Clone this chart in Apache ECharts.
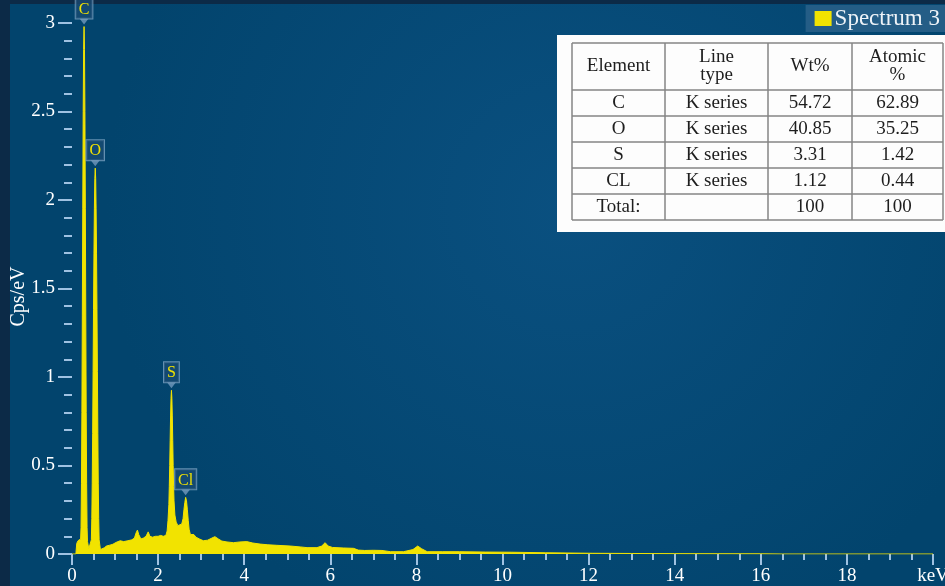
<!DOCTYPE html>
<html>
<head>
<meta charset="utf-8">
<script src="https://cdn.jsdelivr.net/npm/echarts@6/dist/echarts.min.js"></script>
<style>
  html, body { margin: 0; padding: 0; background: #0c2a47; }
  #chart { width: 945px; height: 586px; }
</style>
</head>
<body>
<div id="chart"></div>
<script>
// spectrum (keV, Cps/eV)
var energyKeV = [
  0, 0.09, 0.11, 0.14, 0.18, 0.20,
  0.21, 0.22, 0.23, 0.24, 0.25, 0.26, 0.27, 0.28, 0.29, 0.30, 0.31, 0.32, 0.33, 0.34, 0.35, 0.36,
  0.39, 0.42,
  0.45, 0.46, 0.47, 0.48, 0.49, 0.50, 0.51, 0.52, 0.53, 0.54, 0.55, 0.56, 0.57, 0.58, 0.59, 0.60, 0.61, 0.62, 0.63,
  0.66, 0.70, 0.75, 0.8, 0.88, 0.95, 1.02, 1.12, 1.2, 1.3, 1.39, 1.45, 1.49, 1.52, 1.55, 1.6, 1.66, 1.72, 1.77, 1.81,
  1.87, 1.94, 2.0, 2.06, 2.12, 2.18, 2.21, 2.23, 2.25, 2.26, 2.27, 2.28, 2.29, 2.30, 2.31, 2.32, 2.33, 2.34, 2.35, 2.36,
  2.37, 2.39, 2.42, 2.46, 2.5, 2.55, 2.58, 2.6, 2.62, 2.64, 2.66, 2.68, 2.7, 2.72, 2.75, 2.79, 2.83, 2.88, 2.96, 3.05,
  3.15, 3.25, 3.32, 3.4, 3.48, 3.6, 3.75, 3.9, 4.06, 4.2, 4.37, 4.55, 4.76, 5.07, 5.3, 5.46, 5.69, 5.8, 5.88, 5.95,
  6.05, 6.3, 6.54, 6.65, 6.8, 7.0, 7.2, 7.4, 7.7, 7.92, 8.03, 8.12, 8.25, 8.6, 9.0, 9.6, 10.2, 11.0, 12.1, 13.0,
  14.0, 15.0, 16.0, 16.5, 20
];
var countsCps = [
  0, 0, 0.06, 0.075, 0.08, 0.085,
  0.15, 0.4, 0.8, 1.35, 1.95, 2.5, 2.85, 2.98, 2.85, 2.5, 1.95, 1.35, 0.8, 0.4, 0.15, 0.07,
  0.03, 0.035,
  0.08, 0.2, 0.4, 0.68, 1.03, 1.38, 1.7, 1.95, 2.12, 2.18, 2.12, 1.95, 1.7, 1.38, 1.03, 0.68, 0.4, 0.2, 0.08,
  0.025, 0.028, 0.035, 0.045, 0.05, 0.055, 0.065, 0.075, 0.07, 0.075, 0.08, 0.09, 0.12, 0.135, 0.11, 0.085, 0.09, 0.1, 0.125, 0.1,
  0.095, 0.1, 0.1, 0.105, 0.1, 0.105, 0.13, 0.19, 0.28, 0.38, 0.5, 0.64, 0.78, 0.88, 0.925, 0.88, 0.78, 0.64, 0.5, 0.38,
  0.3, 0.22, 0.18, 0.16, 0.16, 0.17, 0.2, 0.25, 0.29, 0.32, 0.3, 0.25, 0.19, 0.14, 0.11, 0.12, 0.11, 0.095, 0.085, 0.075,
  0.078, 0.09, 0.098, 0.085, 0.073, 0.068, 0.064, 0.068, 0.07, 0.062, 0.056, 0.052, 0.049, 0.045, 0.04, 0.036, 0.036, 0.045, 0.064, 0.045,
  0.037, 0.034, 0.032, 0.022, 0.02, 0.021, 0.02, 0.013, 0.013, 0.025, 0.045, 0.03, 0.013, 0.013, 0.013, 0.011, 0.01, 0.007, 0.004, 0.003,
  0.002, 0.0015, 0.001, 0, 0
];

// labelled peaks
var peakNames = ['C', 'O', 'S', 'Cl'];
var peakKeV = [0.28, 0.54, 2.31, 2.64];
var peakCps = [2.98, 2.18, 0.925, 0.32];

// quantification table
var tableHeader = ['Element', 'Line\ntype', 'Wt%', 'Atomic\n%'];
var tableElement = ['C', 'O', 'S', 'CL', 'Total:'];
var tableLineType = ['K series', 'K series', 'K series', 'K series', ''];
var tableWt = ['54.72', '40.85', '3.31', '1.12', '100'];
var tableAtomic = ['62.89', '35.25', '1.42', '0.44', '100'];

var serif = '"Liberation Serif", "DejaVu Serif", serif';
var yellow = '#f2e300';
var tickColor = '#9fc2e2';

var chart = echarts.init(document.getElementById('chart'));

// table built from the arrays above
var colX = [572, 665, 768, 852, 943];
var rowY = [43, 90, 116, 142, 168, 194, 220];
var tableParts = [{
  type: 'rect',
  shape: { x: 557, y: 35, width: 388, height: 197 },
  style: { fill: '#fdfdfd' }
}];
rowY.forEach(function (y) {
  tableParts.push({
    type: 'line',
    shape: { x1: colX[0], y1: y, x2: colX[4], y2: y },
    style: { stroke: '#858585', lineWidth: 1.5 }
  });
});
colX.forEach(function (x) {
  tableParts.push({
    type: 'line',
    shape: { x1: x, y1: rowY[0], x2: x, y2: rowY[rowY.length - 1] },
    style: { stroke: '#858585', lineWidth: 1.5 }
  });
});
function cell(txt, c, r) {
  return {
    type: 'text',
    style: {
      x: (colX[c] + colX[c + 1]) / 2,
      y: (rowY[r] + rowY[r + 1]) / 2,
      text: txt,
      align: 'center',
      verticalAlign: 'middle',
      font: '19px ' + serif,
      lineHeight: 18,
      fill: '#1e1e1e'
    }
  };
}
tableHeader.forEach(function (h, c) { tableParts.push(cell(h, c, 0)); });
tableElement.forEach(function (e, i) {
  tableParts.push(cell(e, 0, i + 1));
  tableParts.push(cell(tableLineType[i], 1, i + 1));
  tableParts.push(cell(tableWt[i], 2, i + 1));
  tableParts.push(cell(tableAtomic[i], 3, i + 1));
});

var option = {
  animation: false,
  backgroundColor: '#0c2a47',
  graphic: [
    {
      type: 'rect',
      z: -100,
      shape: { x: 10, y: 4, width: 935, height: 582 },
      style: {
        fill: {
          type: 'radial', x: 0.6, y: 0.35, r: 0.8,
          colorStops: [{ offset: 0, color: '#0a5080' }, { offset: 1, color: '#02446d' }]
        }
      }
    },
    { type: 'group', z: 100, children: tableParts }
  ],
  legend: {
    data: ['Spectrum 3'],
    right: 0,
    top: 5,
    icon: 'rect',
    itemWidth: 17,
    itemHeight: 15,
    itemGap: 3,
    backgroundColor: '#245d86',
    padding: [2, 5, 2, 9],
    textStyle: { color: '#eef3f8', fontSize: 23, fontFamily: serif, padding: [0, 0, 0, -2] }
  },
  grid: { left: 72, right: 12, top: 23, bottom: 32, outerBoundsMode: 'none', containLabel: false },
  xAxis: {
    type: 'value',
    min: 0,
    max: 20,
    interval: 2,
    axisLine: { show: false },
    axisTick: { show: true, length: 11, lineStyle: { color: tickColor, width: 2 } },
    minorTick: { show: true, splitNumber: 4, length: 6, lineStyle: { color: tickColor, width: 2 } },
    splitLine: { show: false },
    axisLabel: {
      color: '#ffffff', fontSize: 19, fontFamily: serif, margin: 13,
      formatter: function (v) { return v === 20 ? 'keV' : String(v); }
    }
  },
  yAxis: {
    type: 'value',
    min: 0,
    max: 3,
    interval: 0.5,
    name: 'Cps/eV',
    nameLocation: 'middle',
    nameGap: 43,
    nameMoveOverlap: false,
    nameTextStyle: { color: '#ffffff', fontSize: 20, fontFamily: serif, padding: [0, 16, 0, 0] },
    axisLine: { show: false },
    axisTick: { show: true, length: 14, lineStyle: { color: tickColor, width: 2 } },
    minorTick: { show: true, splitNumber: 5, length: 8, lineStyle: { color: tickColor, width: 2 } },
    splitLine: { show: false },
    axisLabel: { color: '#ffffff', fontSize: 19, fontFamily: serif, margin: 17 }
  },
  series: [{
    name: 'Spectrum 3',
    type: 'line',
    data: energyKeV.map(function (e, i) { return [e, countsCps[i]]; }),
    showSymbol: false,
    symbol: 'none',
    itemStyle: { color: yellow },
    lineStyle: { color: yellow, width: 1 },
    areaStyle: { color: yellow, opacity: 1 },
    markPoint: {
      symbol: 'triangle',
      symbolRotate: 180,
      symbolSize: [9, 6],
      symbolOffset: [0, -5],
      itemStyle: { color: 'rgba(130,165,200,0.7)' },
      label: {
        show: true,
        position: 'top',
        distance: 0,
        formatter: '{b}',
        color: yellow,
        fontSize: 16,
        fontFamily: serif,
        backgroundColor: 'rgba(25,75,115,0.75)',
        borderColor: 'rgba(140,175,205,0.7)',
        borderWidth: 1,
        padding: [3, 3, 1, 3]
      },
      data: peakNames.map(function (n, i) {
        return { name: n, coord: [peakKeV[i], peakCps[i]] };
      })
    }
  }]
};

chart.setOption(option);
</script>
</body>
</html>
